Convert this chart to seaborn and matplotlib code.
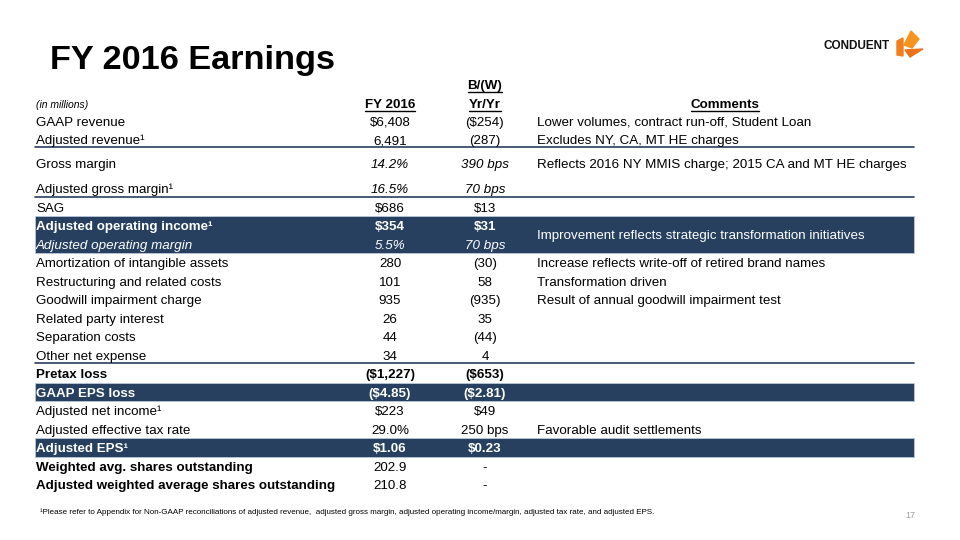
import numpy as np
import matplotlib.pyplot as plt
import seaborn as sns
from matplotlib.patches import Rectangle, Polygon

# table data
labels = ["GAAP revenue", "Adjusted revenue¹", "Gross margin", "Adjusted gross margin¹", "SAG",
          "Adjusted operating income¹", "Adjusted operating margin", "Amortization of intangible assets",
          "Restructuring and related costs", "Goodwill impairment charge", "Related party interest",
          "Separation costs", "Other net expense", "Pretax loss", "GAAP EPS loss", "Adjusted net income¹",
          "Adjusted effective tax rate", "Adjusted EPS¹", "Weighted avg. shares outstanding",
          "Adjusted weighted average shares outstanding"]
fy2016 = ["$6,408", "6,491", "14.2%", "16.5%", "$686", "$354", "5.5%", "280", "101", "935", "26", "44",
          "34", "($1,227)", "($4.85)", "$223", "29.0%", "$1.06", "202.9", "210.8"]
bw_yoy = ["($254)", "(287)", "390 bps", "70 bps", "$13", "$31", "70 bps", "(30)", "58", "(935)", "35",
          "(44)", "4", "($653)", "($2.81)", "$49", "250 bps", "$0.23", "-", "-"]
comments = ["Lower volumes, contract run-off, Student Loan", "Excludes NY, CA, MT HE charges",
            "Reflects 2016 NY MMIS charge; 2015 CA and MT HE charges", "", "", "", "",
            "Increase reflects write-off of retired brand names", "Transformation driven",
            "Result of annual goodwill impairment test", "", "", "", "", "", "",
            "Favorable audit settlements", "", "", ""]
merged_comment = "Improvement reflects strategic transformation initiatives"
merged_rows = [5, 6]

highlight_bands = [(5, 6), (14, 14), (17, 17)]
highlight_rows = [5, 6, 14, 17]
bold_rows = [5, 13, 14, 17]
bold_label_rows = [18, 19]
italic_value_rows = [2, 3, 6]
italic_label_rows = [6]
rule_lines = [147, 197, 363]

sns.set_theme(style="white")
plt.rcParams['font.family'] = ['Liberation Sans', 'DejaVu Sans']
plt.rcParams['text.color'] = 'black'

navy = "#27405F"

fig = plt.figure(figsize=(9.6, 5.4), dpi=100)
ax = fig.add_axes([0, 0, 1, 1])
ax.set_xlim(0, 960)
ax.set_ylim(540, 0)
ax.axis("off")

# row layout (pixels)
step = 18.5
gaps = np.full(len(labels), step)
gaps[0] = 0
gaps[2] = 24
gaps[3] = 25
ypos = 121 + np.cumsum(gaps)

x_left, x_right = 35, 914
x_lab, x_c1, x_c2, x_com = 36, 390, 485, 537
fs = 9.6
base = 4.7  # baseline offset below row centre
va = "baseline"

# highlighted bands
for r0, r1 in highlight_bands:
    top = ypos[r0] - 9.3
    bot = ypos[r1] + 9.3
    ax.add_patch(Rectangle((x_left, top), x_right - x_left, bot - top,
                           facecolor=navy, edgecolor="#B8C8DA", lw=0.6, zorder=1))

for yl in rule_lines:
    ax.plot([x_left, x_right], [yl, yl], color=navy, lw=1.2, zorder=2)

for i, lab in enumerate(labels):
    col = "white" if i in highlight_rows else "black"
    lw_ = "bold" if (i in bold_rows or i in bold_label_rows) else "normal"
    vw = "bold" if i in bold_rows else "normal"
    ls_ = "italic" if i in italic_label_rows else "normal"
    vs = "italic" if i in italic_value_rows else "normal"
    yb = ypos[i] + base
    ax.text(x_lab, yb, lab, fontsize=fs, color=col, weight=lw_, style=ls_,
            ha="left", va=va, zorder=3)
    ax.text(x_c1, yb, fy2016[i], fontsize=fs, color=col, weight=vw, style=vs,
            ha="center", va=va, zorder=3)
    ax.text(x_c2, yb, bw_yoy[i], fontsize=fs, color=col, weight=vw, style=vs,
            ha="center", va=va, zorder=3)
    if comments[i]:
        ax.text(x_com, yb, comments[i], fontsize=fs, color=col,
                ha="left", va=va, zorder=3)

ax.text(x_com, np.mean(ypos[merged_rows]) + base, merged_comment, fontsize=fs, color="white",
        ha="left", va=va, zorder=3)

# headers
ax.text(x_lab, 104 + 3.5, "(in millions)", fontsize=7.5, style="italic", ha="left", va=va)
heads = [(x_c1, 103, "FY 2016"), (x_c2, 84, "B/(W)"), (x_c2, 103, "Yr/Yr"), (725, 103, "Comments")]
head_txt = [ax.text(x, y + base, t, fontsize=fs, weight="bold", ha="center", va=va) for x, y, t in heads]

# title, logo, footer
ax.text(50, 60, "FY 2016 Earnings", fontsize=24.7, weight="bold", ha="left", va="center")
ax.text(823, 46, "CONDUENT", fontsize=8.5, weight="bold", ha="left", va="center", color="#111111")
ax.add_patch(Polygon([(904, 45), (911, 31), (919, 39), (912, 48)], closed=True, color="#F7941D"))
ax.add_patch(Polygon([(897, 41), (903, 38), (903, 56), (897, 55)], closed=True, color="#F07F1E"))
ax.add_patch(Polygon([(905, 50), (923, 49), (910, 57)], closed=True, color="#E8731C"))
ax.text(40, 512, "¹Please refer to Appendix for Non-GAAP reconciliations of adjusted revenue,  adjusted gross margin, "
        "adjusted operating income/margin, adjusted tax rate, and adjusted EPS.",
        fontsize=5.78, ha="left", va="center")
ax.text(905, 515, "17", fontsize=6.5, color="#999999", ha="left", va="center")

# underline the header words
fig.canvas.draw()
rend = fig.canvas.get_renderer()
inv = ax.transData.inverted()
for t in head_txt:
    bb = t.get_window_extent(rend)
    (x0, y0), (x1, y1) = inv.transform([(bb.x0, bb.y0), (bb.x1, bb.y1)])
    ax.plot([x0, x1], [y0 + 0.5, y0 + 0.5], color="black", lw=1.0)

fig.savefig("out.png", dpi=100)
